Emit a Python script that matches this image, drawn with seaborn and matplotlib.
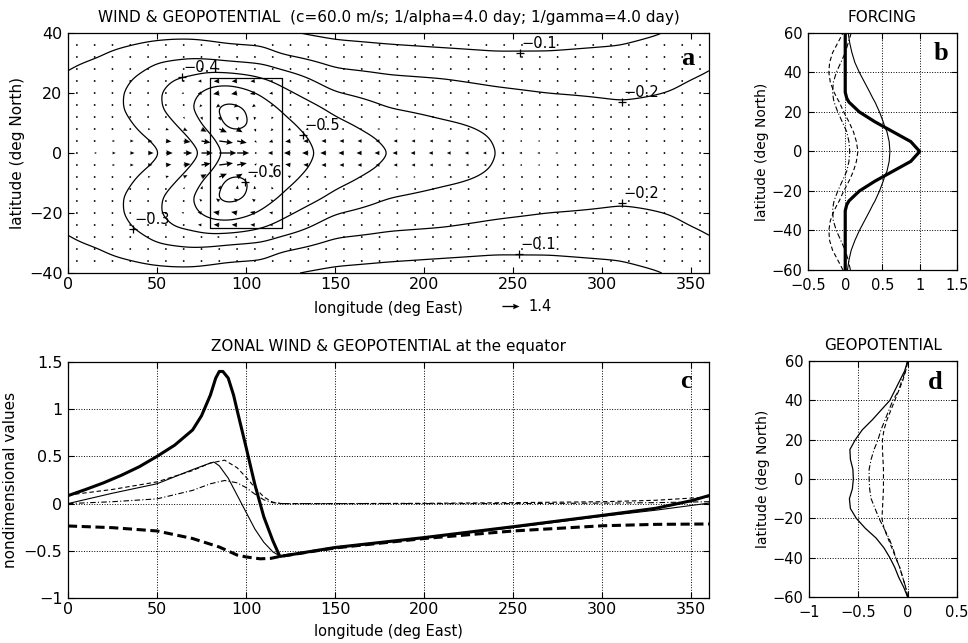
import numpy as np
import pandas as pd
import matplotlib
matplotlib.use("Agg")
import matplotlib.pyplot as plt
import seaborn as sns

# ------------------------------------------------------------------ data
# Panel a : geopotential (field symmetric about the equator)
phi_lon = [0, 20, 30, 40, 50, 60, 70, 80, 90, 100, 110, 120, 150, 180, 210, 240, 270, 310, 340, 360]
phi_lat = [0, 5, 10, 15, 20, 25, 30, 35, 40]
phi_at_000 = [-0.237, -0.236, -0.233, -0.228, -0.220, -0.208, -0.190, -0.160, -0.130]
phi_at_020 = [-0.250, -0.252, -0.256, -0.258, -0.255, -0.245, -0.215, -0.185, -0.145]
phi_at_030 = [-0.265, -0.270, -0.283, -0.298, -0.297, -0.280, -0.250, -0.200, -0.155]
phi_at_040 = [-0.278, -0.290, -0.310, -0.328, -0.330, -0.310, -0.265, -0.215, -0.165]
phi_at_050 = [-0.290, -0.310, -0.345, -0.380, -0.388, -0.355, -0.300, -0.230, -0.170]
phi_at_060 = [-0.330, -0.355, -0.400, -0.445, -0.440, -0.400, -0.315, -0.235, -0.175]
phi_at_070 = [-0.370, -0.410, -0.460, -0.495, -0.480, -0.415, -0.330, -0.235, -0.175]
phi_at_080 = [-0.440, -0.480, -0.545, -0.585, -0.535, -0.450, -0.325, -0.225, -0.170]
phi_at_090 = [-0.530, -0.570, -0.635, -0.635, -0.555, -0.450, -0.310, -0.215, -0.160]
phi_at_100 = [-0.565, -0.578, -0.608, -0.602, -0.525, -0.430, -0.300, -0.210, -0.155]
phi_at_110 = [-0.585, -0.580, -0.565, -0.540, -0.480, -0.400, -0.290, -0.205, -0.150]
phi_at_120 = [-0.560, -0.550, -0.525, -0.490, -0.430, -0.360, -0.250, -0.165, -0.100]
phi_at_150 = [-0.465, -0.450, -0.420, -0.375, -0.305, -0.240, -0.180, -0.125, -0.080]
phi_at_180 = [-0.400, -0.385, -0.350, -0.300, -0.255, -0.210, -0.165, -0.110, -0.070]
phi_at_210 = [-0.355, -0.345, -0.310, -0.270, -0.235, -0.200, -0.150, -0.100, -0.060]
phi_at_240 = [-0.300, -0.295, -0.280, -0.250, -0.215, -0.180, -0.135, -0.090, -0.055]
phi_at_270 = [-0.265, -0.260, -0.250, -0.230, -0.200, -0.165, -0.128, -0.093, -0.060]
phi_at_310 = [-0.235, -0.232, -0.225, -0.210, -0.190, -0.165, -0.140, -0.105, -0.075]
phi_at_340 = [-0.225, -0.225, -0.220, -0.212, -0.203, -0.190, -0.165, -0.135, -0.102]
contour_levels = [-0.6, -0.5, -0.4, -0.3, -0.2, -0.1]

# contour labels (MATLAB style "+" and text)
lab_lon = [64, 36.7, 131.8, 99.4, 253.8, 253.2, 310.9, 310.9]
lab_lat = [25.2, -25.4, 6.0, -9.6, 33.4, -33.8, 17.1, -16.8]
lab_txt = ["−0.4", "−0.3", "−0.5", "−0.6", "−0.1", "−0.1", "−0.2", "−0.2"]

# forcing box
box_lon = [80, 120]
box_lat = [-25, 25]

# wind arrows grid
q_lon = np.arange(5, 360, 10)
q_lat = np.arange(-36, 37, 4)
# latitude decay of the equatorial zonal wind (equatorial values = thick line of panel c)
uq_lat = [0, 4, 8, 12, 16, 20, 24, 28, 32, 36]
uq_prof = [1.0, 0.8, 0.45, 0.15, 0.0, -0.04, -0.04, -0.02, -0.01, 0.0]
# off-equatorial easterlies inside the forcing region
uo_lon = [50, 70, 85, 100, 115, 135]
uo_amp = [0.0, -0.2, -0.45, -0.45, -0.3, 0.0]
uo_prof = [0.0, 0.0, 0.0, 0.2, 0.6, 1.0, 0.9, 0.4, 0.1, 0.0]
# meridional convergence toward the equator
vq_lon = [40, 60, 80, 100, 120, 140]
vq_amp = [0.0, 0.12, 0.3, 0.3, 0.15, 0.0]
vq_prof = [0.0, 0.5, 0.9, 1.0, 0.7, 0.3, 0.1, 0.0, 0.0, 0.0]

# Panel b : forcing profiles
b_lat = [-60, -55, -50, -45, -40, -35, -30, -27, -25, -20, -15, -12.5, -10, -5, 0,
         5, 10, 12.5, 15, 20, 25, 27, 30, 35, 40, 45, 50, 55, 60]
b_thick = [0, 0, 0, 0, 0, 0, 0, 0.02, 0.05, 0.19, 0.40, 0.52, 0.64, 0.88, 1.0,
           0.88, 0.64, 0.52, 0.40, 0.19, 0.05, 0.02, 0, 0, 0, 0, 0, 0, 0]
b_thin = [0.03, 0.05, 0.08, 0.13, 0.19, 0.26, 0.33, 0.37, 0.40, 0.46, 0.51, 0.53, 0.56, 0.59, 0.6,
          0.59, 0.56, 0.53, 0.51, 0.46, 0.40, 0.37, 0.33, 0.26, 0.19, 0.13, 0.09, 0.06, 0.04]
b_dash = [-0.03, -0.10, -0.17, -0.21, -0.22, -0.20, -0.15, -0.11, -0.08, -0.02, 0.05, 0.08, 0.11, 0.15, 0.17,
          0.15, 0.11, 0.08, 0.05, -0.02, -0.08, -0.11, -0.15, -0.20, -0.22, -0.21, -0.17, -0.10, -0.03]
b_dashdot = [0.07, 0.04, 0.0, -0.06, -0.12, -0.16, -0.17, -0.16, -0.15, -0.10, -0.04, -0.01, 0.02, 0.05, 0.06,
             0.05, 0.02, -0.01, -0.04, -0.10, -0.15, -0.16, -0.17, -0.16, -0.12, -0.06, 0.0, 0.04, 0.08]

# Panel c : equatorial zonal wind & geopotential
c_lon_u = [0, 10, 20, 30, 40, 50, 60, 70, 75, 80, 83, 85, 87, 90, 93, 95, 100, 105, 110, 115, 119,
           150, 200, 250, 300, 330, 350, 360]
c_u_total = [0.084, 0.15, 0.22, 0.30, 0.39, 0.50, 0.62, 0.78, 0.93, 1.15, 1.33, 1.40, 1.40, 1.33, 1.15,
             0.99, 0.60, 0.20, -0.14, -0.39, -0.56, -0.465, -0.36, -0.245, -0.125, -0.05, 0.03, 0.085]
c_lon_phi = [0, 25, 50, 70, 85, 95, 100, 108, 114, 119, 150, 200, 250, 300, 330, 360]
c_phi_total = [-0.237, -0.255, -0.29, -0.37, -0.46, -0.545, -0.565, -0.585, -0.58, -0.56,
               -0.47, -0.37, -0.29, -0.235, -0.22, -0.216]
c_lon_thin = [0, 25, 50, 70, 80, 82, 85, 90, 95, 100, 105, 110, 115, 119, 150, 200, 250, 300, 330, 360]
c_u_thin = [0.0, 0.11, 0.21, 0.36, 0.43, 0.44, 0.40, 0.27, 0.09, -0.09, -0.27, -0.41, -0.51, -0.555,
            -0.47, -0.365, -0.255, -0.135, -0.07, 0.005]
c_lon_mode = [0, 25, 50, 70, 80, 88, 95, 100, 105, 110, 115, 120, 150, 200, 250, 300, 330, 360]
c_dashed = [0.09, 0.15, 0.23, 0.35, 0.43, 0.46, 0.38, 0.28, 0.17, 0.07, 0.015, 0.0, 0.0, 0.003, 0.01,
            0.02, 0.035, 0.07]
c_dashdot = [0.0, 0.02, 0.05, 0.14, 0.21, 0.245, 0.22, 0.17, 0.10, 0.04, 0.01, 0.0, 0.0, 0.0, 0.0,
             0.005, 0.01, 0.02]

# Panel d : geopotential profiles
d_lat = [-60, -55, -50, -45, -40, -35, -30, -25, -20, -15, -10, -5, 0, 5, 10, 15, 20, 25, 30, 35, 40, 45, 50, 55, 60]
d_solid = [0, -0.04, -0.09, -0.13, -0.18, -0.24, -0.32, -0.43, -0.52, -0.58, -0.59, -0.56, -0.55,
           -0.555, -0.58, -0.585, -0.53, -0.46, -0.36, -0.27, -0.18, -0.13, -0.08, -0.03, 0]
d_dashdot = [0, -0.02, -0.05, -0.08, -0.12, -0.15, -0.19, -0.24, -0.29, -0.33, -0.37, -0.385, -0.39,
             -0.39, -0.37, -0.34, -0.30, -0.27, -0.23, -0.19, -0.15, -0.09, -0.06, -0.02, 0]
d_dash = [0, -0.02, -0.05, -0.08, -0.12, -0.16, -0.20, -0.24, -0.26, -0.255, -0.25, -0.245, -0.245,
          -0.245, -0.25, -0.255, -0.255, -0.24, -0.21, -0.17, -0.13, -0.09, -0.05, -0.02, 0]

# ------------------------------------------------------------------ style
sns.set_theme(style="ticks")
plt.rcParams["font.family"] = ["DejaVu Sans"]
plt.rcParams.update({
    "axes.linewidth": 0.9, "axes.edgecolor": "black",
    "xtick.direction": "in", "ytick.direction": "in",
    "xtick.top": True, "ytick.right": True,
    "xtick.major.size": 4, "ytick.major.size": 4,
    "xtick.major.width": 0.8, "ytick.major.width": 0.8,
    "xtick.major.pad": 3.0, "ytick.major.pad": 4.0,
    "xtick.labelsize": 11.5, "ytick.labelsize": 11.5,
    "xtick.color": "black", "ytick.color": "black",
    "axes.labelsize": 10.5, "axes.titlesize": 11,
    "text.color": "black", "axes.labelcolor": "black",
})

fig = plt.figure(figsize=(9.68, 6.43), dpi=100)
ax_a = fig.add_axes([0.0702, 0.5754, 0.6622, 0.3733])
ax_b = fig.add_axes([0.8347, 0.5801, 0.1539, 0.3686])
ax_c = fig.add_axes([0.0702, 0.0700, 0.6622, 0.3670])
ax_d = fig.add_axes([0.8357, 0.0715, 0.1529, 0.3670])

letter_font = dict(family=["Liberation Serif", "DejaVu Serif"], fontsize=19, fontweight="bold")

# ------------------------------------------------------------------ panel a
profiles = np.array([phi_at_000, phi_at_020, phi_at_030, phi_at_040, phi_at_050, phi_at_060,
                     phi_at_070, phi_at_080, phi_at_090, phi_at_100, phi_at_110, phi_at_120,
                     phi_at_150, phi_at_180, phi_at_210, phi_at_240, phi_at_270, phi_at_310,
                     phi_at_340, phi_at_000])
lon_f = np.arange(0, 360, 1.0)
lat_f = np.arange(-40, 40.01, 0.5)
rows = np.array([np.interp(lon_f, phi_lon, profiles[:, j]) for j in range(len(phi_lat))])
field = np.array([np.interp(np.abs(lat_f), phi_lat, rows[:, i]) for i in range(len(lon_f))]).T


def gsmooth(z, sig_lon, sig_lat):
    kx = np.exp(-0.5 * (np.arange(-12, 13) / sig_lon) ** 2); kx /= kx.sum()
    ky = np.exp(-0.5 * (np.arange(-12, 13) / sig_lat) ** 2); ky /= ky.sum()
    zp = np.concatenate([z[:, -12:], z, z[:, :12]], axis=1)
    z1 = np.array([np.convolve(r, kx, mode="valid") for r in zp])
    zq = np.pad(z1, ((12, 12), (0, 0)), mode="edge")
    return np.array([np.convolve(c, ky, mode="valid") for c in zq.T]).T


field = gsmooth(field, 4.0, 3.0)
field = np.concatenate([field, field[:, :1]], axis=1)
lon_c = np.append(lon_f, 360.0)
ax_a.contour(lon_c, lat_f, field, levels=contour_levels, colors="black", linewidths=0.9,
             linestyles="solid")

# wind arrows
LON, LAT = np.meshgrid(q_lon, q_lat)
u_eq_q = np.interp(q_lon, c_lon_u, c_u_total)
U = np.outer(np.interp(np.abs(q_lat), uq_lat, uq_prof), u_eq_q)
U += np.outer(np.interp(np.abs(q_lat), uq_lat, uo_prof), np.interp(q_lon, uo_lon, uo_amp, left=0, right=0))
V = -np.sign(LAT) * np.outer(np.interp(np.abs(q_lat), uq_lat, vq_prof),
                            np.interp(q_lon, vq_lon, vq_amp, left=0, right=0))
q = ax_a.quiver(LON, LAT, U, V, scale=8.2, scale_units="inches", width=0.0021,
                headwidth=4.2, headlength=4.8, headaxislength=4.3, minlength=1.5, color="black",
                pivot="tail")
ax_a.quiverkey(q, 0.536, 0.524, 1.4, "1.4", labelpos="E", coordinates="figure",
               labelsep=0.1, fontproperties={"size": 10.5})

# forcing box
ax_a.plot([box_lon[0], box_lon[1], box_lon[1], box_lon[0], box_lon[0]],
          [box_lat[0], box_lat[0], box_lat[1], box_lat[1], box_lat[0]], color="black", lw=0.9)

# contour labels
for lo, la, t in zip(lab_lon, lab_lat, lab_txt):
    ax_a.plot(lo, la, marker="+", color="black", ms=6, mew=0.9)
    ax_a.annotate(t, (lo, la), xytext=(1, 1.5), textcoords="offset points", fontsize=10.5,
                  ha="left", va="bottom")

ax_a.set_xlim(0, 360)
ax_a.set_ylim(-40, 40)
ax_a.set_xticks(np.arange(0, 361, 50))
ax_a.set_yticks([-40, -20, 0, 20, 40])
ax_a.set_xlabel("longitude (deg East)", labelpad=6)
ax_a.set_ylabel("latitude (deg North)", labelpad=3, fontsize=11)
ax_a.set_title("WIND & GEOPOTENTIAL  (c=60.0 m/s; 1/alpha=4.0 day; 1/gamma=4.0 day)", pad=8)
ax_a.text(0.977, 0.867, "a", transform=ax_a.transAxes, ha="right", va="baseline", **letter_font)

# ------------------------------------------------------------------ panel b
df_b = pd.DataFrame({"lat": b_lat, "thick": b_thick, "thin": b_thin, "dash": b_dash, "dashdot": b_dashdot})
sns.lineplot(data=df_b, x="thin", y="lat", sort=False, estimator=None, color="black", lw=0.8, ax=ax_b)
sns.lineplot(data=df_b, x="dash", y="lat", sort=False, estimator=None, color="black", lw=0.8,
             ls=(0, (4, 2.5)), ax=ax_b)
sns.lineplot(data=df_b, x="dashdot", y="lat", sort=False, estimator=None, color="black", lw=0.8,
             ls=(0, (5, 2, 1, 2)), ax=ax_b)
sns.lineplot(data=df_b, x="thick", y="lat", sort=False, estimator=None, color="black", lw=2.3, ax=ax_b)
ax_b.set_xlim(-0.5, 1.5)
ax_b.set_ylim(-60, 60)
ax_b.set_xticks([-0.5, 0, 0.5, 1, 1.5])
ax_b.set_xticklabels(["−0.5", "0", "0.5", "1", "1.5"])
ax_b.set_yticks(np.arange(-60, 61, 20))
ax_b.tick_params(labelsize=10.5)
ax_b.tick_params(axis="x", pad=6)
ax_b.grid(True, ls=":", lw=0.7, color="black")
ax_b.set_xlabel("")
ax_b.set_ylabel("latitude (deg North)", labelpad=2, fontsize=10)
ax_b.set_title("FORCING", pad=8)
ax_b.text(0.94, 0.886, "b", transform=ax_b.transAxes, ha="right", va="baseline", **letter_font)

# ------------------------------------------------------------------ panel c
sns.lineplot(x=c_lon_mode, y=c_dashdot, sort=False, estimator=None, color="black", lw=0.8,
             ls=(0, (5, 2, 1, 2)), ax=ax_c)
sns.lineplot(x=c_lon_mode, y=c_dashed, sort=False, estimator=None, color="black", lw=0.8,
             ls=(0, (4, 2.5)), ax=ax_c)
sns.lineplot(x=c_lon_thin, y=c_u_thin, sort=False, estimator=None, color="black", lw=0.8, ax=ax_c)
sns.lineplot(x=c_lon_phi, y=c_phi_total, sort=False, estimator=None, color="black", lw=2.2,
             ls=(0, (3, 1.5)), ax=ax_c)
sns.lineplot(x=c_lon_u, y=c_u_total, sort=False, estimator=None, color="black", lw=2.2, ax=ax_c)
ax_c.set_xlim(0, 360)
ax_c.set_ylim(-1, 1.5)
ax_c.set_xticks(np.arange(0, 361, 50))
ax_c.set_yticks([-1, -0.5, 0, 0.5, 1, 1.5])
ax_c.set_yticklabels(["−1", "−0.5", "0", "0.5", "1", "1.5"])
ax_c.grid(True, ls=":", lw=0.7, color="black")
ax_c.set_xlabel("longitude (deg East)", labelpad=5)
ax_c.set_ylabel("nondimensional values", labelpad=4, fontsize=11)
ax_c.set_title("ZONAL WIND & GEOPOTENTIAL at the equator", pad=8)
ax_c.text(0.973, 0.89, "c", transform=ax_c.transAxes, ha="right", va="baseline", **letter_font)

# ------------------------------------------------------------------ panel d
df_d = pd.DataFrame({"lat": d_lat, "solid": d_solid, "dashdot": d_dashdot, "dash": d_dash})
sns.lineplot(data=df_d, x="dash", y="lat", sort=False, estimator=None, color="black", lw=0.8,
             ls=(0, (4, 2.5)), ax=ax_d)
sns.lineplot(data=df_d, x="dashdot", y="lat", sort=False, estimator=None, color="black", lw=0.8,
             ls=(0, (5, 2, 1, 2)), ax=ax_d)
sns.lineplot(data=df_d, x="solid", y="lat", sort=False, estimator=None, color="black", lw=0.9, ax=ax_d)
ax_d.set_xlim(-1, 0.5)
ax_d.set_ylim(-60, 60)
ax_d.set_xticks([-1, -0.5, 0, 0.5])
ax_d.set_xticklabels(["−1", "−0.5", "0", "0.5"])
ax_d.set_yticks(np.arange(-60, 61, 20))
ax_d.tick_params(labelsize=10.5)
ax_d.tick_params(axis="x", pad=6)
ax_d.grid(True, ls=":", lw=0.7, color="black")
ax_d.set_xlabel("")
ax_d.set_ylabel("latitude (deg North)", labelpad=2, fontsize=10)
ax_d.set_title("GEOPOTENTIAL", pad=8)
ax_d.text(0.90, 0.881, "d", transform=ax_d.transAxes, ha="right", va="baseline", **letter_font)

for ax in (ax_a, ax_b, ax_c, ax_d):
    for s in ax.spines.values():
        s.set_visible(True)
        s.set_color("black")

fig.savefig("out.png", dpi=100)
